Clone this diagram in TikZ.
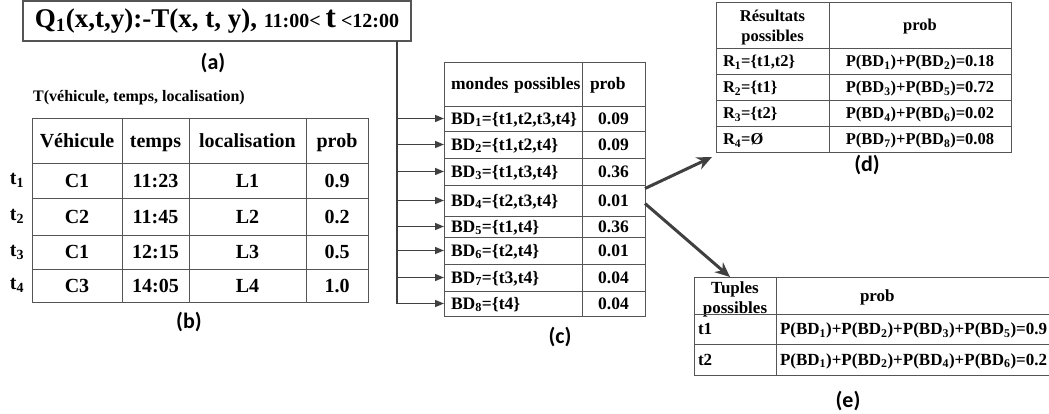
\documentclass[tikz,border=0pt]{standalone}
\usepackage{fontspec}
\setmainfont{Liberation Serif}
\newfontfamily\labfont{Carlito}
\usetikzlibrary{arrows.meta,calc}
\definecolor{rule}{HTML}{555555}
\definecolor{wire}{HTML}{404040}

% single-line table cell: name, x1, y1, x2, y2, horizontal inset, alignment, text
\newcommand\tcell[8]{%
  \pgfmathsetmacro\cellw{#4-#2}%
  \pgfmathsetmacro\cellh{#5-#3}%
  \pgfmathsetmacro\celltw{#4-#2-2*#6}%
  \node[cell, oneline, inner xsep=#6pt, minimum width=\cellw pt, minimum height=\cellh pt,
        text width=\celltw pt, align=#7] (#1) at (#2,#3) {#8};}
% two-line header cell: name, x1, y1, x2, y2, downward offset of the text, text
\newcommand\tcellm[7]{%
  \pgfmathsetmacro\cellw{#4-#2}%
  \pgfmathsetmacro\cellh{#5-#3}%
  \node[cell, minimum width=\cellw pt, minimum height=\cellh pt, inner sep=0pt] (#1) at (#2,#3) {};
  \node[tfont, align=center, inner sep=0pt] (#1-t) at ([yshift=-#6pt]#1.center) {#7};}
\newcommand\sbt[1]{\textsubscript{#1}}

\begin{document}
\begin{tikzpicture}[x=1pt,y=-1pt,
  tfont/.style={},
  cell/.style={draw=rule, line width=0.9pt, anchor=north west, inner ysep=0pt, outer sep=0pt, tfont},
  oneline/.style={},
  tag/.style={font=\labfont\bfseries\fontsize{22}{25}\selectfont, inner sep=0pt},
  feed/.style={draw=wire, line width=1.4pt, -{Triangle[length=9pt,width=7pt]}},
  link/.style={draw=wire, line width=3pt, -{Stealth[length=15pt,width=13pt]}}]
\useasboundingbox (0,0) rectangle (1049,414);

% query box
\node[draw=rule, line width=1.6pt, minimum width=388pt, minimum height=40pt,
      inner sep=0pt, outer sep=0pt, anchor=north west, font=\bfseries] (q) at (23,1)
  {\fontsize{27}{30}\selectfont Q\sbt{1}(x,t,y):-T(x, t, y), \fontsize{20}{22}\selectfont 11:00< {\fontsize{31}{32}\selectfont t} <12:00};
\node[tag] (la) at (213,63) {(a)};

% relation T
\node[anchor=west, inner sep=0pt, font=\bfseries\fontsize{16}{18}\selectfont] (title) at (33,98)
  {T(véhicule, temps, localisation)};
\begin{scope}[tfont/.style={font=\bfseries\fontsize{20}{22}\selectfont},
              oneline/.style={text height=17.6pt, text depth=4.4pt}]
\tcell{bh1}{32}{118}{122}{163}{4}{center}{Véhicule}
\tcell{bh2}{122}{118}{189}{163}{4}{center}{temps}
\tcell{bh3}{189}{118}{306}{163}{4}{center}{localisation}
\tcell{bh4}{306}{118}{368}{163}{4}{center}{prob}
\foreach \i/\ya/\yb/\va/\vb/\vc/\vd in
  {1/163/198/C1/11:23/L1/0.9, 2/198/235/C2/11:45/L2/0.2,
   3/235/269/C1/12:15/L3/0.5, 4/269/302/C3/14:05/L4/1.0}{
  \tcell{b\i a}{32}{\ya}{122}{\yb}{4}{center}{\va}
  \tcell{b\i b}{122}{\ya}{189}{\yb}{4}{center}{\vb}
  \tcell{b\i c}{189}{\ya}{306}{\yb}{4}{center}{\vc}
  \tcell{b\i d}{306}{\ya}{368}{\yb}{4}{center}{\vd}
  \node[inner sep=0pt, tfont] (t\i) at (17,{(\ya+\yb)/2}) {t\sbt{\i}};
}
\end{scope}
\node[tag] (lb) at (189,322) {(b)};

% possible worlds
\begin{scope}[tfont/.style={font=\bfseries\fontsize{17.5}{19}\selectfont},
              oneline/.style={text height=15.4pt, text depth=3.8pt}]
\tcell{ch}{444}{62}{582}{106}{7}{left}{\mbox{mondes possibles}}
\tcell{chp}{582}{62}{645}{106}{8}{left}{prob}
\tcell{c1a}{444}{106}{582}{131}{7}{left}{\mbox{BD\sbt{1}=\{t1,t2,t3,t4\}}}
\tcell{c1b}{582}{106}{645}{131}{4}{center}{0.09}
\tcell{c2a}{444}{131}{582}{158}{7}{left}{BD\sbt{2}=\{t1,t2,t4\}}
\tcell{c2b}{582}{131}{645}{158}{4}{center}{0.09}
\tcell{c3a}{444}{158}{582}{185}{7}{left}{BD\sbt{3}=\{t1,t3,t4\}}
\tcell{c3b}{582}{158}{645}{185}{4}{center}{0.36}
\tcell{c4a}{444}{185}{582}{216}{7}{left}{BD\sbt{4}=\{t2,t3,t4\}}
\tcell{c4b}{582}{185}{645}{216}{4}{center}{0.01}
\tcell{c5a}{444}{216}{582}{237}{7}{left}{BD\sbt{5}=\{t1,t4\}}
\tcell{c5b}{582}{216}{645}{237}{4}{center}{0.36}
\tcell{c6a}{444}{237}{582}{264}{7}{left}{BD\sbt{6}=\{t2,t4\}}
\tcell{c6b}{582}{237}{645}{264}{4}{center}{0.01}
\tcell{c7a}{444}{264}{582}{291}{7}{left}{BD\sbt{7}=\{t3,t4\}}
\tcell{c7b}{582}{264}{645}{291}{4}{center}{0.04}
\tcell{c8a}{444}{291}{582}{316}{7}{left}{BD\sbt{8}=\{t4\}}
\tcell{c8b}{582}{291}{645}{316}{4}{center}{0.04}
\end{scope}
\node[tag] (lc) at (560,337) {(c)};

% feeder bus from the query to every world
\coordinate (bustop) at ([xshift=-14pt]q.south east);
\draw[feed] (bustop) |- (c8a.west);
\foreach \k in {1,...,7}{\draw[feed] (bustop |- c\k a.west) -- (c\k a.west);}

% possible results
\begin{scope}[tfont/.style={font=\bfseries\fontsize{16.5}{20}\selectfont},
              oneline/.style={text height=14.5pt, text depth=3.6pt}]
\tcellm{dh1}{716}{2}{829}{48}{2.5}{Résultats\\possibles}
\tcell{dh2}{829}{2}{1011}{48}{4}{center}{prob}
\tcell{d1a}{716}{48}{829}{74}{7}{left}{R\sbt{1}=\{t1,t2\}}
\tcell{d1b}{829}{48}{1011}{74}{4}{center}{P(BD\sbt{1})+P(BD\sbt{2})=0.18}
\tcell{d2a}{716}{74}{829}{100}{7}{left}{R\sbt{2}=\{t1\}}
\tcell{d2b}{829}{74}{1011}{100}{4}{center}{P(BD\sbt{3})+P(BD\sbt{5})=0.72}
\tcell{d3a}{716}{100}{829}{126}{7}{left}{R\sbt{3}=\{t2\}}
\tcell{d3b}{829}{100}{1011}{126}{4}{center}{P(BD\sbt{4})+P(BD\sbt{6})=0.02}
\tcell{d4a}{716}{126}{829}{152}{7}{left}{R\sbt{4}=Ø}
\tcell{d4b}{829}{126}{1011}{152}{4}{center}{P(BD\sbt{7})+P(BD\sbt{8})=0.08}
\end{scope}
\node[tag] (ld) at (867,165) {(d)};

% possible tuples
\begin{scope}[tfont/.style={font=\bfseries\fontsize{17}{20}\selectfont},
              oneline/.style={text height=15pt, text depth=3.7pt}]
\tcellm{eh1}{694}{277}{776}{314}{4}{Tuples\\possibles}
\tcell{eh2}{776}{277}{1051}{314}{84}{left}{prob}
\tcell{e1a}{694}{314}{776}{344}{4}{left}{t1}
\tcell{e1b}{776}{314}{1051}{344}{4}{left}{\mbox{P(BD\sbt{1})+P(BD\sbt{2})+P(BD\sbt{3})+P(BD\sbt{5})=0.9}}
\tcell{e2a}{694}{344}{776}{375}{4}{left}{t2}
\tcell{e2b}{776}{344}{1051}{375}{4}{left}{\mbox{P(BD\sbt{1})+P(BD\sbt{2})+P(BD\sbt{4})+P(BD\sbt{6})=0.2}}
\end{scope}
\node[tag] (le) at (848,401) {(e)};

% aggregation arrows
\draw[link] ([yshift=12pt]c4b.east) -- ([xshift=-4pt,yshift=-5pt]d4a.south west);
\draw[link] ([yshift=-3pt]c4b.east) -- ([xshift=-5pt]eh1.north);
\end{tikzpicture}
\end{document}
